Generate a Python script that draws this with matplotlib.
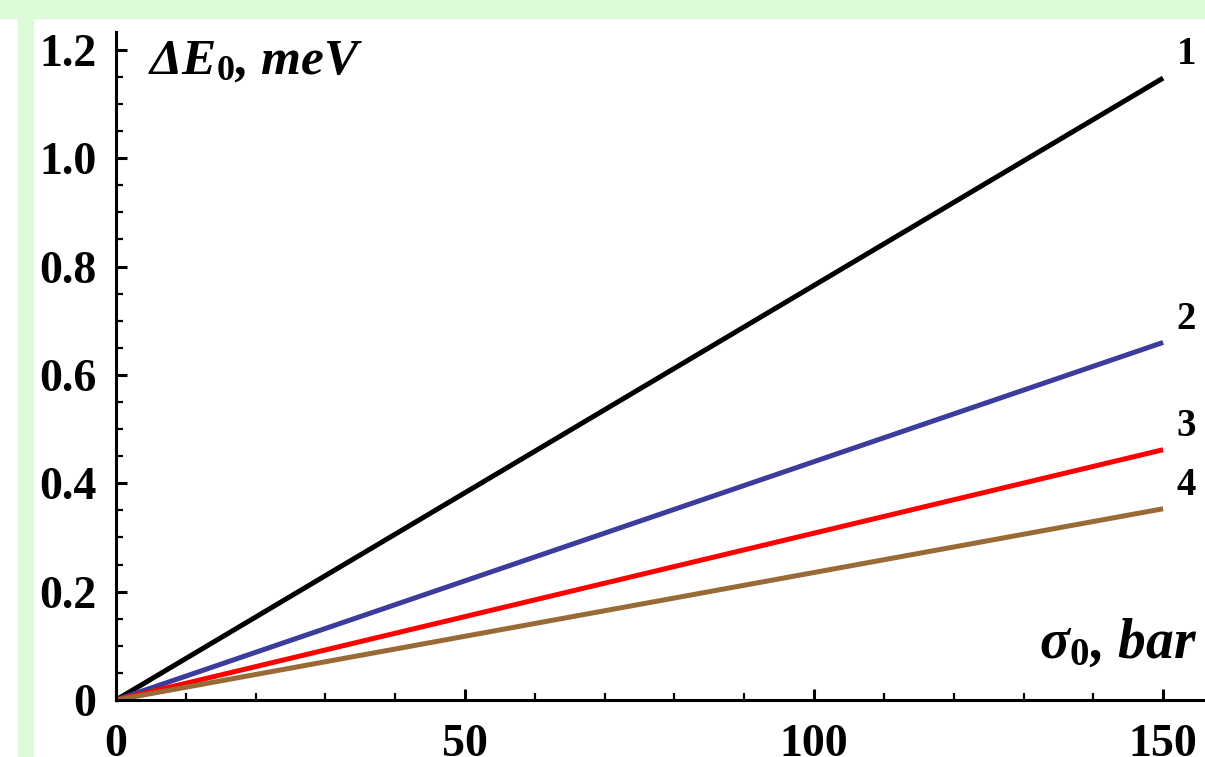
import matplotlib
matplotlib.use('Agg')
import matplotlib.pyplot as plt
from matplotlib.ticker import MultipleLocator

plt.rcParams['mathtext.fontset'] = 'custom'
plt.rcParams['mathtext.rm'] = 'Liberation Serif:bold'
plt.rcParams['mathtext.it'] = 'Liberation Serif:italic:bold'
plt.rcParams['mathtext.bf'] = 'Liberation Serif:bold'

# data: linear dependence of energy shift on pressure
sigma = [0, 150]
dE1 = [0, 1.148]
dE2 = [0, 0.660]
dE3 = [0, 0.462]
dE4 = [0, 0.353]
curves = [dE1, dE2, dE3, dE4]
curve_names = ['1', '2', '3', '4']
colors = ['#000000', '#3c3c9c', '#ff0000', '#9a6a36']
yticks = [0, 0.2, 0.4, 0.6, 0.8, 1.0, 1.2]
yticklabels = ['0', '0.2', '0.4', '0.6', '0.8', '1.0', '1.2']
xticks = [0, 50, 100, 150]

green = '#ddfbd8'
fig = plt.figure(figsize=(12.05, 7.57), dpi=100)
fig.patch.set_facecolor('white')
# green frame of the page
fig.patches.append(plt.Rectangle((0, 1 - 18 / 757), 1, 18 / 757, transform=fig.transFigure,
                                 color=green, zorder=0))
fig.patches.append(plt.Rectangle((18 / 1205, 0), 15 / 1205, 1, transform=fig.transFigure,
                                 color=green, zorder=0))

ax = fig.add_axes([116 / 1205, 57 / 757, (1205 - 116) / 1205, (700 - 32) / 757])
ax.set_facecolor('none')

for y, c in zip(curves, colors):
    ax.plot(sigma, y, color=c, lw=3.6, solid_capstyle='butt', clip_on=False)
for y, name in zip(curves, curve_names):
    ax.text(sigma[-1] + 3.3, y[-1] + 0.043, name, fontsize=28, fontweight='bold',
            family='Liberation Serif', ha='center', va='center')

ax.set_xlim(0, 156)
ax.set_ylim(0, 1.233)

for s in ['top', 'right']:
    ax.spines[s].set_visible(False)
for s in ['left', 'bottom']:
    ax.spines[s].set_linewidth(2.2)

ax.set_xticks(xticks)
ax.set_yticks(yticks)
ax.set_yticklabels(yticklabels)
ax.xaxis.set_minor_locator(MultipleLocator(10))
ax.yaxis.set_minor_locator(MultipleLocator(0.05))
ax.tick_params(which='major', direction='in', length=8, width=2.2, pad=14)
ax.tick_params(which='minor', direction='in', length=5, width=1.6)
ax.tick_params(axis='x', which='major', pad=17)
for lab in ax.get_xticklabels() + ax.get_yticklabels():
    lab.set_family('Liberation Serif')
    lab.set_fontweight('bold')
    lab.set_fontsize(33)

ax.text(0.029, 0.99, 'Δ$E_0$, meV', transform=ax.transAxes, fontsize=37,
        family='Liberation Serif', style='italic', fontweight='bold', va='top', ha='left')
ax.text(0.993, 0.045, 'σ$_0$, bar', transform=ax.transAxes, fontsize=40,
        family='Liberation Serif', style='italic', fontweight='bold', va='bottom', ha='right')

fig.savefig('out.png', dpi=100)
